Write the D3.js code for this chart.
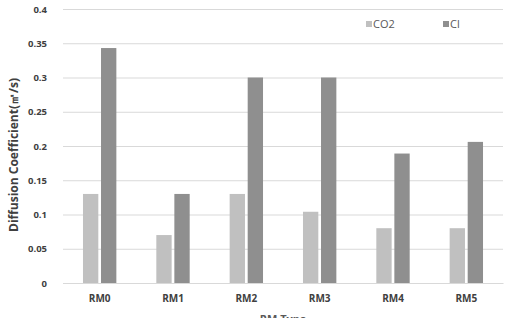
<!DOCTYPE html>
<html>
<head>
<meta charset="utf-8">
<script src="https://cdn.jsdelivr.net/npm/d3@7"></script>
<style>
  body { margin: 0; background: #fff; }
  svg text { font-family: "Open Sans", "DejaVu Sans", sans-serif; }
</style>
</head>
<body>
<div id="chart"></div>
<script>
const categories = ["RM0", "RM1", "RM2", "RM3", "RM4", "RM5"];
const seriesNames = ["CO2", "Cl"];
const co2 = [0.13, 0.07, 0.13, 0.104, 0.08, 0.08];
const cl = [0.343, 0.13, 0.3, 0.3, 0.189, 0.206];
const yTicks = [0, 0.05, 0.1, 0.15, 0.2, 0.25, 0.3, 0.35, 0.4];
const colors = ["#c0c0c0", "#8f8f8f"];

const width = 512, height = 318;
const margin = { left: 63, right: 9, top: 9, bottom: 35 };

const svg = d3.select("#chart").append("svg")
  .attr("width", width).attr("height", height);

const x = d3.scaleBand()
  .domain(categories)
  .range([margin.left, width - margin.right])
  .paddingInner(0.545)
  .paddingOuter(0.2725);
const x1 = d3.scaleBand()
  .domain(seriesNames)
  .range([0, x.bandwidth()])
  .paddingInner(0.15);
const y = d3.scaleLinear()
  .domain([0, 0.4])
  .range([height - margin.bottom, margin.top]);

// grid
svg.append("g")
  .attr("transform", `translate(${margin.left},0)`)
  .call(d3.axisLeft(y).tickValues(yTicks).tickSize(-(width - margin.left - margin.right)).tickFormat(d => d))
  .call(g => g.select(".domain").remove())
  .call(g => g.selectAll(".tick line").attr("stroke", "#d9d9d9").attr("stroke-width", 1.2))
  .call(g => g.selectAll(".tick text")
    .attr("x", -16)
    .attr("fill", "#404040")
    .attr("font-size", 9.5)
    .attr("font-weight", "bold"));

const data = [co2, cl];
seriesNames.forEach((s, si) => {
  svg.append("g").selectAll("rect")
    .data(categories)
    .join("rect")
    .attr("x", d => x(d) + x1(s))
    .attr("width", x1.bandwidth())
    .attr("y", (d, i) => y(data[si][i]))
    .attr("height", (d, i) => y(0) - y(data[si][i]))
    .attr("fill", colors[si]);
});

// x axis
svg.append("g")
  .attr("transform", `translate(0,${y(0)})`)
  .call(d3.axisBottom(x).tickSize(0))
  .call(g => g.select(".domain").attr("stroke", "#d9d9d9").attr("stroke-width", 1.2))
  .call(g => g.selectAll(".tick text")
    .attr("dy", 0)
    .attr("y", 19)
    .attr("fill", "#404040")
    .attr("font-size", 10)
    .attr("font-weight", "bold"));

// axis titles
svg.append("text")
  .attr("x", (margin.left + width - margin.right) / 2)
  .attr("y", 323)
  .attr("text-anchor", "middle")
  .attr("fill", "#595959")
  .attr("font-size", 11)
  .attr("font-weight", "bold")
  .text("RM Type");

svg.append("text")
  .attr("transform", `translate(18,${(margin.top + height - margin.bottom) / 2 + 9}) rotate(-90)`)
  .attr("text-anchor", "middle")
  .attr("fill", "#404040")
  .attr("font-size", 12)
  .attr("font-weight", "bold")
  .text("Diffusion Coefficient(㎡/s)");

// legend
const legendX = [366, 443];
seriesNames.forEach((s, i) => {
  const g = svg.append("g").attr("transform", `translate(${legendX[i]},24)`);
  g.append("rect").attr("x", 0).attr("y", -3).attr("width", 6).attr("height", 6).attr("fill", colors[i]);
  g.append("text").attr("x", 7).attr("y", 0).attr("dy", "0.35em")
    .attr("fill", "#595959").attr("font-size", 11).text(s);
});
</script>
</body>
</html>
